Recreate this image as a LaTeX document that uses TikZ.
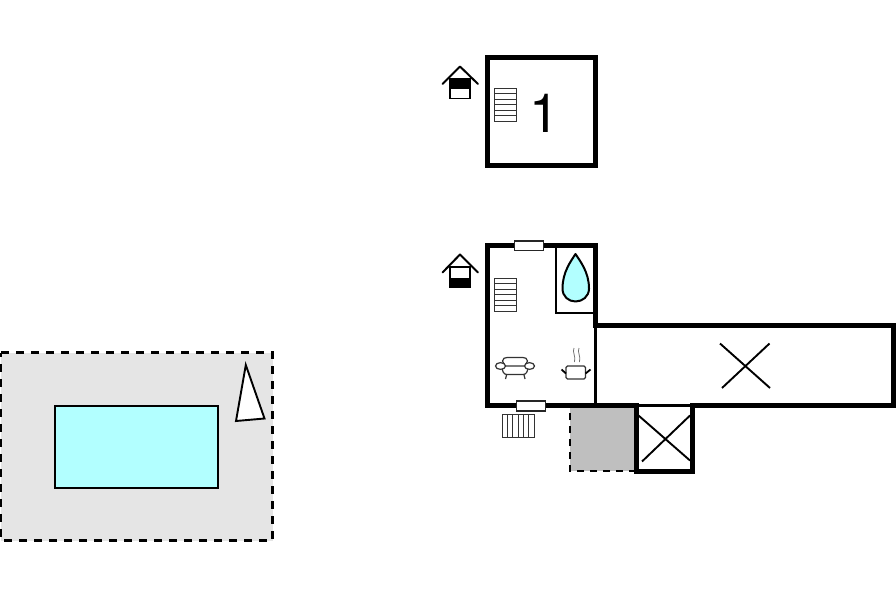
\documentclass[tikz,border=0pt]{standalone}
\usepackage{fontspec}
\setmainfont{TeX Gyre Heros}
\definecolor{poolblue}{RGB}{178,255,255}
\definecolor{terrace}{RGB}{229,229,229}
\definecolor{shed}{RGB}{191,191,191}
\tikzset{
  wall/.style={line width=5pt,line join=miter,draw=black},
  thin wall/.style={line width=2.4pt,draw=black},
  dash edge/.style={line width=2.7pt,draw=black,dash pattern=on 8pt off 7pt},
  stairs/.style={line width=1pt,draw=black!80},
  furn/.style={line width=1.2pt,draw=black!80,fill=white},
  cross/.style={line width=1.9pt,draw=black},
  window/.style={line width=1.1pt,draw=black!85,fill=white},
  icon/.style={line width=2pt,draw=black,line cap=round,line join=round}
}
\newcommand{\stairset}[2]{%
  \begin{scope}[shift={(#1,#2)}]
    \draw[stairs] (0,0) rectangle (22,32.5);
    \foreach \yy in {5.4,10.8,16.2,21.6,27}{\draw[stairs] (0,\yy) -- (22,\yy);}
  \end{scope}}
\begin{document}
\begin{tikzpicture}[x=1pt,y=-1pt]
\useasboundingbox (0,0) rectangle (896,597);
% terrace and pool
\fill[terrace] (1,352.5) rectangle (272.5,540.5);
\draw[dash edge] (1,352.5) -- (272.5,352.5) -- (272.5,540.5) -- (1,540.5) -- cycle;
\draw[line width=2pt,fill=poolblue] (55.3,406) rectangle (218.2,487.5);
\draw[line width=1.9pt,fill=white,line join=miter] (245.8,365) -- (264.5,418.5) -- (236,421) -- cycle;
% upper floor
\draw[wall] (487.5,57.5) rectangle (595.5,165.5);
\stairset{494}{88.5}
\node[font=\fontsize{54}{54}\selectfont,inner sep=0pt] (floorno) at (544.5,113) {1};
% upper icon
\fill (449.5,78.5) rectangle (470,88.5);
\draw[icon] (442.5,84) -- (460,66.5) -- (478,84);
\draw[line width=1.9pt] (449.8,78.5) rectangle (470,98.5);
% lower icon
\fill (449.5,277.5) rectangle (470,287.5);
\draw[icon] (442.5,272.5) -- (460,254.5) -- (478,272.5);
\draw[line width=1.9pt] (449.8,267) rectangle (470,287.5);
% shed
\fill[shed] (570,405.5) rectangle (636,471);
\draw[dash edge,dash pattern=on 7pt off 6pt] (636,471) -- (570,471) -- (570,405.5);
% lower floor
\draw[thin wall,line width=2.2pt] (595.5,325) -- (595.5,405.5);
\draw[wall] (487.5,245.8) -- (595.5,245.8) -- (595.5,325.5) -- (893,325.5) -- (893,405.5) -- (692,405.5) -- (692,471) -- (636,471) -- (636,405.5) -- (487.5,405.5) -- cycle;
\draw[thin wall,line width=2.2pt] (636,405.5) -- (692,405.5);
% bathroom
\draw[thin wall] (556,245.8) -- (556,313) -- (595.5,313);
\draw[line width=2pt,fill=poolblue,line join=round] (575.5,254) .. controls (571,261) and (562.5,272) .. (562.5,288.5) .. controls (562.5,296.5) and (568.5,301.5) .. (575.5,301.5) .. controls (582.5,301.5) and (589,296.5) .. (589,288.5) .. controls (589,272) and (580,261) .. (575.5,254) -- cycle;
% stairs lower
\stairset{494}{278.5}
% windows
\draw[window] (514.5,241) rectangle (543.5,250.5);
\draw[window] (516.5,401) rectangle (545.5,411);
% radiator
\draw[stairs] (502,414.5) rectangle (534.3,437);
\foreach \xx in {507.3,512.6,518,523.4,528.8}{\draw[stairs] (\xx,414.5) -- (\xx,437);}
% sofa
\draw[furn] (506,368) -- (502.5,361) .. controls (502.5,358.5) and (505,357.5) .. (507,357.5) -- (523,357.5) .. controls (525,357.5) and (527.5,358.5) .. (527.5,361) -- (524,368) -- cycle;
\draw[furn] (502,366) .. controls (502,372) and (504,374.5) .. (507,374.5) -- (523,374.5) .. controls (526,374.5) and (528,372) .. (528,366) -- cycle;
\draw[furn] (500.5,366) ellipse (5pt and 3.4pt);
\draw[furn] (529.5,366) ellipse (5pt and 3.4pt);
\draw[furn] (506.5,375) -- (505.5,379);
\draw[furn] (524,375) -- (525,379);
% pot
\draw[furn,rounded corners=1.5pt] (566,366) rectangle (585.5,379);
\draw[line width=1.8pt] (561.5,369.5) -- (566,373.5);
\draw[line width=1.8pt] (590.5,369.5) -- (585.5,373.5);
\draw[line width=0.8pt,draw=black!55] (574,348) .. controls (572,352) and (576,356) .. (574.5,362);
\draw[line width=0.8pt,draw=black!55] (579,348) .. controls (577,352) and (581,356) .. (579.5,362);
% crosses
\draw[cross] (720,343.5) -- (770,388);
\draw[cross] (769.5,343.5) -- (722,388);
\draw[cross] (638.5,415.5) -- (690,460.5);
\draw[cross] (690,415.5) -- (642,461.5);
\end{tikzpicture}
\end{document}
